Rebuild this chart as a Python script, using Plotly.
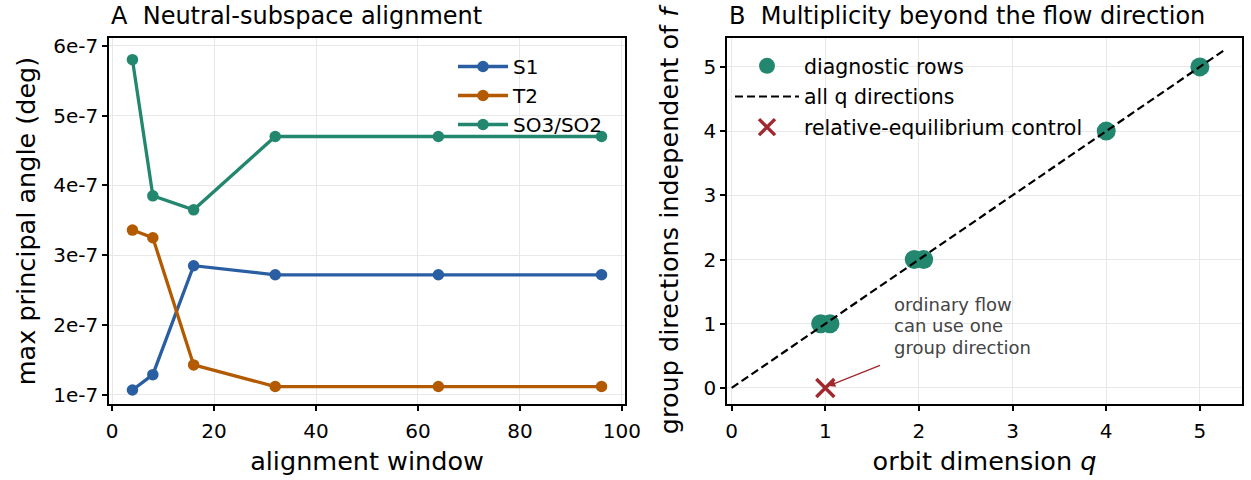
import plotly.graph_objects as go

# Panel A: neutral-subspace alignment vs. window size
window = [4, 8, 16, 32, 64, 96]
angle_s1 = [1.07e-7, 1.29e-7, 2.85e-7, 2.72e-7, 2.72e-7, 2.72e-7]
angle_t2 = [3.36e-7, 3.25e-7, 1.43e-7, 1.12e-7, 1.12e-7, 1.12e-7]
angle_so3 = [5.80e-7, 3.85e-7, 3.65e-7, 4.70e-7, 4.70e-7, 4.70e-7]
angle_ticks = [1e-7, 2e-7, 3e-7, 4e-7, 5e-7, 6e-7]
angle_tick_text = ["1e-7", "2e-7", "3e-7", "4e-7", "5e-7", "6e-7"]
window_ticks = [0, 20, 40, 60, 80, 100]

# Panel B: group directions vs. orbit dimension
orbit_q = [0.95, 1.05, 1.95, 2.05, 4.0, 5.0]
group_dirs = [1, 1, 2, 2, 4, 5]
diag_line_q = [0, 5.25]
control_q = [1]
control_dirs = [0]
b_ticks = [0, 1, 2, 3, 4, 5]
note_lines = ["ordinary flow", "can use one", "group direction"]

BLUE = "#2a5ea3"
ORANGE = "#b35a00"
GREEN = "#22876e"
RED = "#a0282e"
FONT = "DejaVu Sans"

fig = go.Figure()

for name, ys, col in [("S1", angle_s1, BLUE), ("T2", angle_t2, ORANGE),
                      ("SO3/SO2", angle_so3, GREEN)]:
    fig.add_trace(go.Scatter(
        x=window, y=ys, name=name, mode="lines+markers",
        line=dict(color=col, width=3.3), marker=dict(color=col, size=11.5),
        xaxis="x", yaxis="y", legend="legend"))

fig.add_trace(go.Scatter(
    x=orbit_q, y=group_dirs, name="diagnostic rows", mode="markers",
    marker=dict(color=GREEN, size=19), xaxis="x2", yaxis="y2",
    legend="legend2", legendgroup="rows"))
fig.add_trace(go.Scatter(
    x=diag_line_q, y=diag_line_q, name="all q directions", mode="lines",
    line=dict(color="black", width=2.2, dash="8px,4px"),
    xaxis="x2", yaxis="y2", legend="legend2", legendgroup="diag"))
fig.add_trace(go.Scatter(
    x=control_q, y=control_dirs, name="relative-equilibrium control", mode="markers",
    marker=dict(color=RED, size=18, symbol="x-thin", line=dict(color=RED, width=3.4)),
    xaxis="x2", yaxis="y2", legend="legend2", legendgroup="ctrl"))

axis_common = dict(
    showline=True, linecolor="black", linewidth=1.5, mirror=True,
    ticks="outside", ticklen=5, tickwidth=1.5, tickcolor="black",
    showgrid=True, gridcolor="#e8e8e8", gridwidth=1, zeroline=False,
    automargin=False,
    tickfont=dict(family=FONT, size=20, color="black"),
    title_font=dict(family=FONT, size=25.5, color="black"),
)

fig.update_layout(
    width=1251, height=480,
    margin=dict(l=0, r=0, t=0, b=0),
    paper_bgcolor="white", plot_bgcolor="white",
    font=dict(family=FONT, color="black"),
    xaxis=dict(domain=[109/1251, 625/1251], range=[-0.6, 100.6],
               tickvals=window_ticks, ticklabelstandoff=3,
               title=dict(text="alignment window", standoff=10),
               anchor="y", **axis_common),
    yaxis=dict(domain=[1-404/480, 1-38/480], range=[0.87e-7, 6.11e-7],
               tickvals=angle_ticks, ticktext=angle_tick_text,
               title=dict(text="max principal angle (deg)", standoff=10),
               anchor="x", **axis_common),
    xaxis2=dict(domain=[727/1251, 1242/1251], range=[-0.05, 5.45],
                tickvals=b_ticks, ticklabelstandoff=3,
                title=dict(text="orbit dimension <i>q</i>", standoff=10),
                anchor="y2", **axis_common),
    yaxis2=dict(domain=[1-404/480, 1-38/480], range=[-0.25, 5.45],
                tickvals=b_ticks,
                title=dict(text="group directions independent of <i>f</i>", standoff=18),
                anchor="x2", **axis_common),
    legend=dict(x=453/1251, y=1-47/480, xanchor="left", yanchor="top",
                bgcolor="rgba(0,0,0,0)", font=dict(family=FONT, size=20),
                tracegroupgap=0, itemwidth=50),
    legend2=dict(x=730/1251, y=1-46/480, xanchor="left", yanchor="top",
                 bgcolor="rgba(0,0,0,0)", font=dict(family=FONT, size=20.5),
                 tracegroupgap=1, itemwidth=64),
    showlegend=True,
)

annotations = [
    dict(text="A  Neutral-subspace alignment", x=109/1251, y=1-16/480,
         xref="paper", yref="paper", xanchor="left", yanchor="middle",
         showarrow=False, font=dict(family=FONT, size=24, color="black")),
    dict(text="B  Multiplicity beyond the flow direction", x=727/1251, y=1-16/480,
         xref="paper", yref="paper", xanchor="left", yanchor="middle",
         showarrow=False, font=dict(family=FONT, size=24, color="black")),
    # arrow pointing at the relative-equilibrium control
    dict(x=control_q[0] + 0.03, y=control_dirs[0] + 0.03, xref="x2", yref="y2",
         ax=1.6, ay=0.36, axref="x2", ayref="y2", text="", showarrow=True,
         arrowhead=2, arrowsize=1.1, arrowwidth=1.3, arrowcolor=RED),
]
for i, line in enumerate(note_lines):
    annotations.append(dict(
        text=line, x=1.71, y=1.30, xref="x2", yref="y2", xanchor="left",
        yanchor="middle", yshift=-21.5 * i, showarrow=False,
        font=dict(family=FONT, size=18, color="#444444")))
fig.update_layout(annotations=annotations)

fig.write_html("out.html")
